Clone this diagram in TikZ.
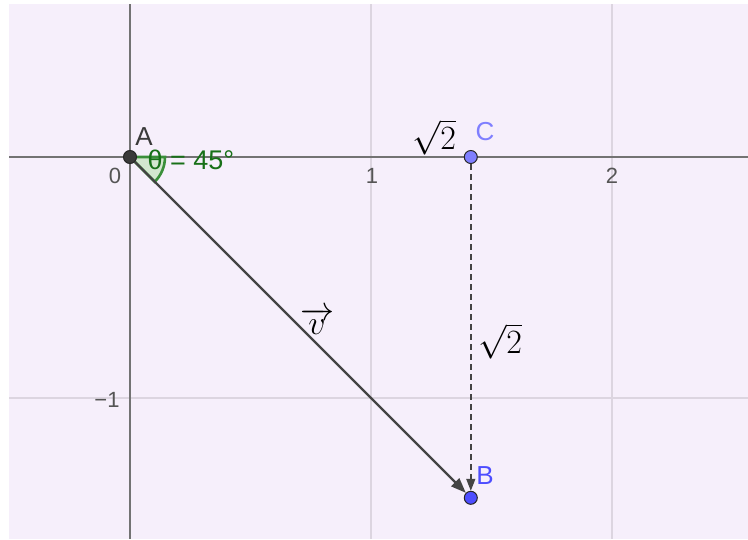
\RequirePackage{fix-cm}
\documentclass[tikz,border=0pt]{standalone}
\usepackage{fontspec}
\usetikzlibrary{arrows.meta}
\newfontfamily\lab{Liberation Sans}
\definecolor{bgc}{HTML}{F6EFFB}
\definecolor{gridc}{HTML}{DCD5E0}
\definecolor{axisc}{HTML}{737373}
\definecolor{tickc}{HTML}{555555}
\definecolor{vecc}{HTML}{444444}
\definecolor{Acol}{HTML}{3A3A3A}
\definecolor{Ccol}{HTML}{7F7FFF}
\definecolor{Bcol}{HTML}{4D4DFF}
\definecolor{anglec}{HTML}{3A8F3A}
\definecolor{anglefill}{HTML}{D3E6CF}
\definecolor{thetac}{HTML}{187018}
\begin{document}
\begin{tikzpicture}[x=1pt,y=-1pt,
  every node/.style={inner sep=0pt},
  gridline/.style={draw=gridc, line width=1.3pt},
  axisline/.style={draw=axisc, line width=1.8pt},
  ticklbl/.style={font=\lab\fontsize{22}{22}\selectfont, text=tickc},
  ptlbl/.style={font=\lab\fontsize{26}{26}\selectfont},
  mathlbl/.style={font=\fontsize{34}{34}\selectfont, text=black},
  gpt/.style={circle, draw=black!85, line width=1pt, minimum size=13pt, inner sep=0pt},
  vecline/.style={draw=vecc, line width=2.4pt, -{Triangle[length=15pt,width=11pt]}},
  dashline/.style={draw=vecc, line width=1.5pt, dash pattern=on 6pt off 4pt, -{Triangle[length=12pt,width=9pt]}},
  anglesector/.style={fill=anglefill, draw=anglec, line width=2.6pt}
]
\useasboundingbox (0,0) rectangle (748,539);
\fill[bgc] (9,4) rectangle (748,539);
% grid
\draw[gridline] (371,4) -- (371,539);
\draw[gridline] (612,4) -- (612,539);
\draw[gridline] (9,398) -- (748,398);
% axes
\draw[axisline] (9,157) -- (748,157);
\draw[axisline] (130,4) -- (130,539);
% tick labels
\node[ticklbl] (t0) at (115,176) {0};
\node[ticklbl] (t1) at (372,176) {1};
\node[ticklbl] (t2) at (612,176) {2};
\node[ticklbl] (tm1) at (107,400) {\char"2212 1};
% angle sector
\draw[anglesector] (130,157) -- ++(35,0) arc[start angle=0, end angle=45, radius=35] -- cycle;
% points
\node[gpt, fill=Acol] (A) at (130,157) {};
\node[gpt, fill=Ccol] (C) at (470.8,157) {};
\node[gpt, fill=Bcol] (B) at (470.8,497.8) {};
% connectors
\draw[vecline] (A) -- (B);
\draw[dashline] (C) -- (B);
% labels
\node[ptlbl, text=Acol] (lA) at (144,137) {A};
\node[ptlbl, text=Ccol] (lC) at (485,132) {C};
\node[ptlbl, text=Bcol] (lB) at (485,476) {B};
\node[font=\lab\fontsize{27}{27}\selectfont, text=thetac] (lth) at (191,160) {θ = 45°};
\node[mathlbl] (s1) at (434,137) {$\sqrt{2}$};
\node[mathlbl] (s2) at (500,341) {$\sqrt{2}$};
\node[mathlbl] (lv) at (317,321) {$\overrightarrow{v}$};
\end{tikzpicture}
\end{document}
